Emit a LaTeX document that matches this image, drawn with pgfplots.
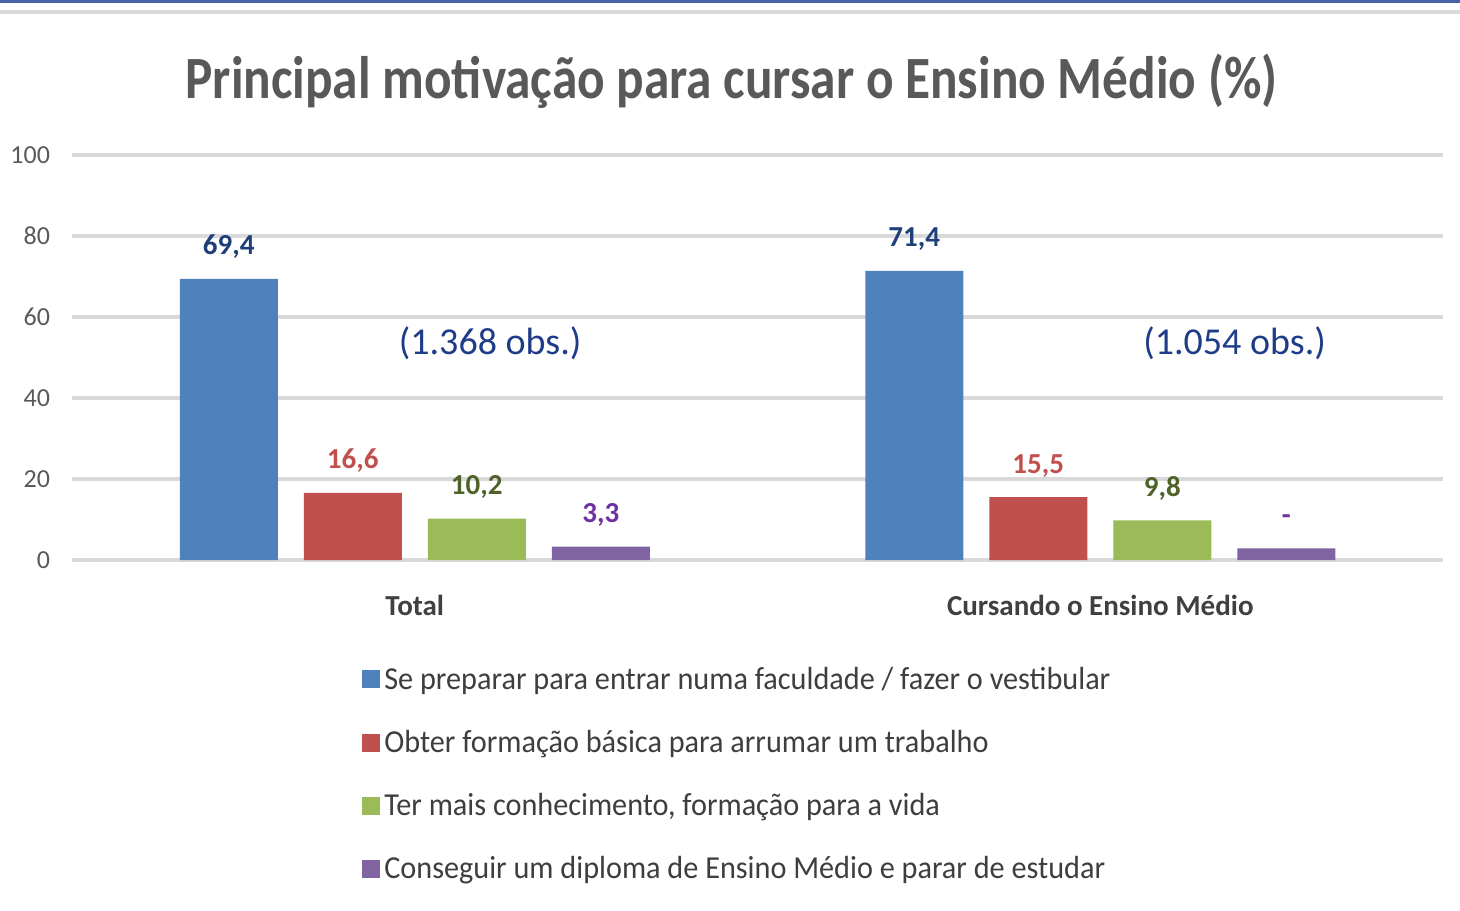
\documentclass[border=0pt]{standalone}
\usepackage{pgfplots}
\pgfplotsset{compat=1.18}
\usepackage{fontspec}
\setmainfont{Carlito}
\newfontfamily\titlefont{Carlito}[FakeStretch=0.856]
\newfontfamily\legfont{Carlito}[FakeStretch=0.945]
\definecolor{cBlue}{HTML}{4F81BD}
\definecolor{cRed}{HTML}{C0504D}
\definecolor{cGreen}{HTML}{9BBB59}
\definecolor{cPurple}{HTML}{8064A2}
\definecolor{lBlue}{HTML}{1F3F7A}
\definecolor{lRed}{HTML}{C0504D}
\definecolor{lGreen}{HTML}{4F6228}
\definecolor{lPurple}{HTML}{7030A0}
\definecolor{obsBlue}{HTML}{1F3C88}
\definecolor{gridGray}{HTML}{D9D9D9}
\definecolor{txtGray}{HTML}{595959}
\definecolor{topBlue}{HTML}{4A62A6}
\pgfplotsset{sqlegend/.style={legend image code/.code={\fill[##1] (0pt,-4.5pt) rectangle (9pt,4.5pt);}}}
\begin{document}
\begin{tikzpicture}
\path[use as bounding box] (-36pt,-175pt) rectangle (694pt,280pt);
\fill[topBlue] (-36pt,278.6pt) rectangle (694pt,280pt);
\fill[gridGray] (-36pt,273pt) rectangle (694pt,275pt);
\begin{axis}[
  scale only axis,
  width=685.5pt, height=202.5pt,
  ybar=13pt, bar width=49pt,
  xmin=-0.5, xmax=1.5, ymin=0, ymax=100,
  xtick={0,1}, xticklabels={Total,Cursando o Ensino Médio},
  ytick={0,20,40,60,80,100},
  ymajorgrids, grid style={gridGray, line width=1.6pt},
  axis line style={draw=none}, tick style={draw=none},
  /pgf/number format/assume math mode=true,
  yticklabel style={font=\fontsize{13}{15}\selectfont, text=txtGray, xshift=-7.5pt},
  xticklabel style={font=\bfseries\fontsize{14.5}{17}\selectfont, text=black!75, yshift=-10pt},
  title={Principal motivação para cursar o Ensino Médio (\%)},
  title style={at={(0.481,1.111)}, anchor=base, font=\titlefont\bfseries\fontsize{30}{36}\selectfont, text=txtGray},
  point meta=explicit symbolic,
  nodes near coords={\pgfplotspointmeta},
  nodes near coords style={anchor=base, yshift=12pt, font=\bfseries\fontsize{14.5}{17}\selectfont},
  legend style={draw=none, at={(0.2071,-0.243)}, anchor=north west, font=\legfont\fontsize{16}{19}\selectfont, text=txtGray!70!black, row sep=15pt, legend cell align=left},
  clip=false,
]
\addplot[fill=cBlue, draw=none, sqlegend, nodes near coords style={text=lBlue}] coordinates {(0,69.4) [{69,4}] (1,71.4) [{71,4}]};
\addplot[fill=cRed, draw=none, sqlegend, nodes near coords style={text=lRed}] coordinates {(0,16.6) [{16,6}] (1,15.5) [{15,5}]};
\addplot[fill=cGreen, draw=none, sqlegend, nodes near coords style={text=lGreen}] coordinates {(0,10.2) [{10,2}] (1,9.8) [{9,8}]};
\addplot[fill=cPurple, draw=none, sqlegend, nodes near coords style={text=lPurple}] coordinates {(0,3.3) [{3,3}] (1,2.9) [{-}]};
\legend{Se preparar para entrar numa faculdade / fazer o vestibular,
Obter formação básica para arrumar um trabalho,
{Ter mais conhecimento, formação para a vida},
Conseguir um diploma de Ensino Médio e parar de estudar}
\node[text=obsBlue, font=\fontsize{19}{23}\selectfont] at (axis cs:0.11,53.6) {(1.368 obs.)};
\node[text=obsBlue, font=\fontsize{19}{23}\selectfont] at (axis cs:1.196,53.6) {(1.054 obs.)};
\end{axis}
\end{tikzpicture}
\end{document}
